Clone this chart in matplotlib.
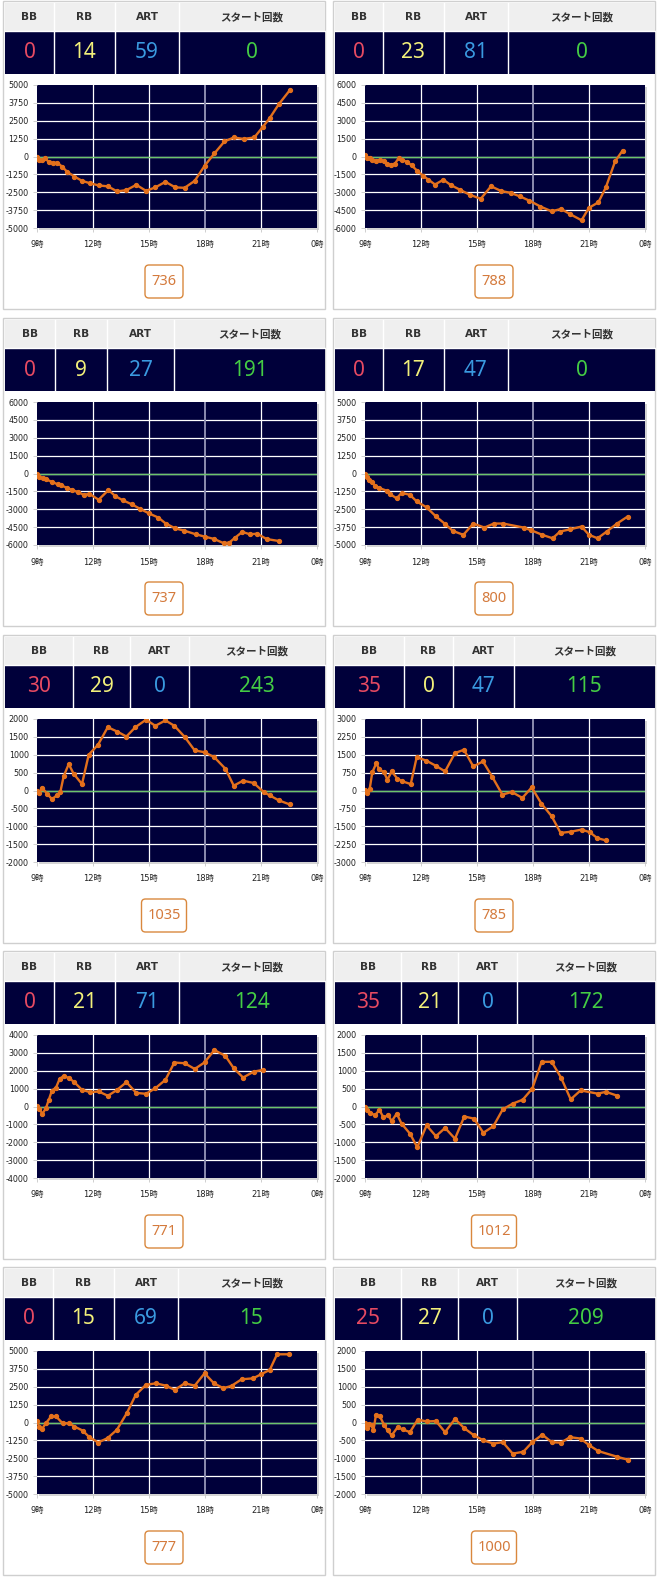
import matplotlib
matplotlib.use("Agg")
import matplotlib.pyplot as plt
from matplotlib.patches import Rectangle, FancyBboxPatch

plt.rcParams["font.family"] = ["DejaVu Sans", "Noto Sans CJK JP"]

# ── Data ──
BB = [0, 0, 0, 0, 30, 35, 0, 35, 0, 25]
RB = [14, 23, 9, 17, 29, 0, 21, 21, 15, 27]
ART = [59, 81, 27, 47, 0, 47, 71, 0, 69, 0]
START = [0, 0, 191, 0, 243, 115, 124, 172, 15, 209]
BOX_NUM = [736, 788, 737, 800, 1035, 785, 771, 1012, 777, 1000]
Y_MAX = [5000, 6000, 6000, 5000, 2000, 3000, 4000, 2000, 5000, 2000]
X_TICKS = [9, 12, 15, 18, 21, 24]
X_LABELS = ["9時", "12時", "15時", "18時", "21時", "0時"]

hours_1 = [9.0, 9.12, 9.27, 9.45, 9.63, 9.86, 10.07, 10.34, 10.6, 11.0, 11.41, 11.86, 12.3, 12.8,
           13.29, 13.79, 14.32, 14.84, 15.34, 15.88, 16.41, 16.91, 17.45, 17.98, 18.5, 19.04,
           19.54, 20.07, 20.64, 21.11, 21.46, 21.95, 22.54]
vals_1 = [0, -230, -230, -120, -400, -470, -420, -700, -1050, -1400, -1700, -1880, -2020, -2090,
          -2440, -2350, -1980, -2400, -2160, -1770, -2160, -2190, -1700, -650, 210, 1050,
          1330, 1230, 1330, 2090, 2670, 3650, 4630]

hours_2 = [9.0, 9.1, 9.25, 9.4, 9.6, 9.8, 10.0, 10.2, 10.4, 10.6, 10.8, 11.0, 11.25, 11.5, 11.8,
           12.1, 12.4, 12.75, 13.2, 13.6, 14.1, 14.6, 15.2, 15.75, 16.3, 16.8, 17.3, 17.8, 18.4,
           19.0, 19.5, 20.0, 20.6, 21.0, 21.5, 21.9, 22.4, 22.8]
vals_2 = [100, -100, -150, -300, -350, -300, -400, -600, -700, -600, -150, -300, -450, -750, -1200,
          -1600, -1950, -2350, -1950, -2400, -2800, -3200, -3550, -2500, -2900, -3050, -3350, -3700,
          -4200, -4600, -4400, -4850, -5350, -4300, -3850, -2600, -400, 500]

hours_3 = [9.0, 9.1, 9.3, 9.5, 9.8, 10.1, 10.3, 10.6, 10.9, 11.2, 11.5, 11.8, 12.3, 12.83, 13.2,
           13.6, 14.1, 14.5, 15.0, 15.5, 15.9, 16.4, 16.9, 17.5, 18.0, 18.5, 19.0, 19.3, 19.6,
           20.0, 20.4, 20.8, 21.3, 21.94]
vals_3 = [0, -300, -400, -500, -700, -900, -1000, -1200, -1400, -1550, -1800, -1700, -2200, -1390,
          -1900, -2250, -2600, -2950, -3350, -3700, -4200, -4600, -4800, -5100, -5300, -5500,
          -5850, -5800, -5400, -4900, -5100, -5050, -5500, -5660]

hours_4 = [9.0, 9.09, 9.23, 9.36, 9.54, 9.77, 10.16, 10.34, 10.7, 10.96, 11.4, 11.77, 12.3, 12.8,
           13.3, 13.7, 14.27, 14.8, 15.4, 15.9, 16.4, 17.5, 17.9, 18.5, 19.05, 19.45, 20.0, 20.6,
           21.0, 21.46, 21.95, 22.5, 23.07]
vals_4 = [0, -220, -430, -620, -850, -1020, -1200, -1440, -1740, -1350, -1490, -1950, -2370, -3000,
          -3540, -4010, -4290, -3500, -3780, -3500, -3500, -3780, -3970, -4290, -4530, -4060,
          -3900, -3710, -4290, -4530, -4060, -3500, -3010]

hours_5 = [9.0, 9.1, 9.27, 9.54, 9.8, 10.07, 10.25, 10.43, 10.7, 10.96, 11.41, 11.77, 12.27, 12.79,
           13.29, 13.79, 14.27, 14.84, 15.34, 15.88, 16.36, 16.91, 17.45, 17.98, 18.5, 19.09,
           19.54, 20.04, 20.61, 21.14, 21.46, 21.95, 22.54]
vals_5 = [-25, -70, 80, -90, -240, -135, -40, 400, 740, 470, 180, 1000, 1280, 1770,
          1650, 1510, 1770, 1980, 1810, 1960, 1810, 1500, 1120, 1070, 930, 610,
          135, 275, 210, -40, -135, -275, -390]

hours_6 = [9.0, 9.09, 9.25, 9.39, 9.61, 9.75, 10.02, 10.2, 10.43, 10.73, 11.0, 11.45, 11.77, 12.29,
           12.79, 13.29, 13.82, 14.3, 14.8, 15.32, 15.82, 16.36, 16.86, 17.43, 17.93, 18.45,
           19.0, 19.48, 20.02, 20.6, 21.04, 21.45, 21.89]
vals_6 = [35, -100, 60, 760, 1150, 900, 760, 450, 800, 500, 385, 270, 1400, 1250,
          1040, 800, 1570, 1710, 1010, 1220, 570, -175, -60, -310, 130, -550,
          -1080, -1780, -1730, -1640, -1750, -2000, -2090]

hours_7 = [9.0, 9.12, 9.29, 9.48, 9.63, 9.8, 10.02, 10.21, 10.43, 10.73, 11.0, 11.41, 11.86, 12.3,
           12.8, 13.29, 13.79, 14.32, 14.84, 15.34, 15.88, 16.36, 16.91, 17.45, 17.98, 18.5,
           19.09, 19.54, 20.04, 20.61, 21.11]
vals_7 = [50, -130, -410, -90, 370, 890, 1060, 1540, 1710, 1580, 1360, 930, 800, 840,
          600, 930, 1360, 760, 710, 1020, 1490, 2460, 2420, 2100, 2470, 3160,
          2830, 2140, 1620, 1950, 2050]

hours_8 = [9.0, 9.09, 9.27, 9.54, 9.77, 9.98, 10.25, 10.43, 10.7, 10.96, 11.41, 11.8, 12.3, 12.8,
           13.29, 13.82, 14.32, 14.84, 15.34, 15.88, 16.38, 16.91, 17.45, 17.96, 18.46, 19.0,
           19.5, 20.02, 20.55, 21.46, 21.91, 22.52]
vals_8 = [0, -90, -170, -250, -90, -300, -250, -410, -200, -480, -760, -1140, -530, -830,
          -600, -900, -280, -340, -735, -550, -80, 80, 190, 500, 1250, 1250,
          810, 200, 450, 360, 410, 300]

hours_9 = [9.0, 9.12, 9.27, 9.48, 9.75, 10.02, 10.37, 10.73, 11.0, 11.44, 11.8, 12.28, 12.78, 13.28,
           13.81, 14.29, 14.83, 15.36, 15.9, 16.38, 16.91, 17.45, 17.98, 18.48, 18.98, 19.42,
           19.96, 20.58, 21.0, 21.47, 21.86, 22.49]
vals_9 = [70, -280, -440, -50, 420, 420, -50, -50, -280, -560, -1020, -1400, -1090, -510,
          650, 1930, 2630, 2740, 2580, 2280, 2740, 2580, 3440, 2740, 2400, 2560,
          3020, 3090, 3370, 3680, 4770, 4770]

hours_10 = [9.0, 9.09, 9.23, 9.36, 9.45, 9.59, 9.8, 10.02, 10.21, 10.43, 10.75, 11.02, 11.41, 11.82,
            12.3, 12.8, 13.29, 13.82, 14.32, 14.84, 15.34, 15.88, 16.38, 16.91, 17.48, 17.96,
            18.5, 19.0, 19.5, 19.98, 20.55, 21.02, 21.5, 22.52, 23.07]
vals_10 = [-20, -150, -55, -80, -220, 220, 170, -65, -220, -360, -130, -195, -270, 80,
           30, 40, -270, 100, -160, -360, -500, -590, -550, -870, -820, -550,
           -340, -550, -565, -410, -450, -640, -800, -960, -1040]

SERIES = [(hours_1, vals_1), (hours_2, vals_2), (hours_3, vals_3), (hours_4, vals_4),
          (hours_5, vals_5), (hours_6, vals_6), (hours_7, vals_7), (hours_8, vals_8),
          (hours_9, vals_9), (hours_10, vals_10)]

# ── Layout (pixels) ──
W, H = 658, 1580
ROW_TOP = [2, 319, 636, 952, 1268]
COL_X = [0, 330]
# column splits inside each panel's header table
SPLITS = [(54, 115, 179), (53, 114, 178), (55, 107, 174), (53, 114, 178),
          (73, 130, 189), (74, 123, 184), (54, 115, 179), (71, 128, 187),
          (53, 114, 178), (71, 128, 187)]
CHART_X = [37, 365]
CHART_W = 280

NAVY = "#00003a"
ORANGE = "#e3701c"
VAL_COLORS = ["#e64a62", "#f2f07a", "#3a9ae0", "#44cc44"]
HEAD = ["BB", "RB", "ART", "スタート回数"]

fig = plt.figure(figsize=(W / 100, H / 100), dpi=100)
fig.patch.set_facecolor("white")
base = fig.add_axes([0, 0, 1, 1])
base.set_xlim(0, W)
base.set_ylim(H, 0)
base.axis("off")


def px_axes(x, y, w, h):
    return fig.add_axes([x / W, 1 - (y + h) / H, w / W, h / H])


for i in range(10):
    r, c = divmod(i, 2)
    ox, top = COL_X[c], ROW_TOP[r]
    # panel border
    base.add_patch(Rectangle((ox + 3, top - 1), 322, 308, facecolor="white",
                             edgecolor="#cfcfcf", lw=1))
    # header table
    xs = [ox + 5] + [ox + s for s in SPLITS[i]] + [ox + 325]
    base.add_patch(Rectangle((ox + 5, top + 1), 320, 28, facecolor="#efefef", edgecolor="none"))
    base.add_patch(Rectangle((ox + 5, top + 29), 320, 43, facecolor=NAVY, edgecolor="none"))
    vals = [BB[i], RB[i], ART[i], START[i]]
    for k in range(4):
        cx = (xs[k] + xs[k + 1]) / 2
        base.text(cx, top + 15, HEAD[k], ha="center", va="center", fontsize=7.6,
                  fontweight="bold", color="#333333",
                  family=["DejaVu Sans", "Noto Sans CJK JP"])
        base.text(cx, top + 51, str(vals[k]), ha="center", va="center", fontsize=15,
                  color=VAL_COLORS[k], family="Noto Sans")
    for s in xs[1:-1]:
        base.plot([s, s], [top + 1, top + 72], color="white", lw=1)
    base.plot([ox + 5, ox + 325], [top + 29, top + 29], color="white", lw=1)

    # chart shadow
    cx0, cy0, ch = CHART_X[c], top + 83, 143
    base.add_patch(Rectangle((cx0 + 1.5, cy0 + 1.5), CHART_W, ch, facecolor="#d4d4d4",
                             edgecolor="none"))

    ax = px_axes(cx0, cy0, CHART_W, ch)
    ax.set_facecolor(NAVY)
    ym = Y_MAX[i]
    yt = [ym - k * ym / 4 for k in range(9)]
    ax.set_xlim(9, 24)
    ax.set_ylim(-ym, ym)
    for v in yt[1:-1]:
        ax.axhline(v, color="white", lw=0.9, zorder=1)
    for xv in X_TICKS[1:-1]:
        ax.axvline(xv, color="#8c8cb0" if xv == 18 else "white",
                   lw=1.4 if xv == 18 else 0.9, zorder=1)
    ax.axhline(0, color="#6cc46c", lw=1.0, zorder=2)
    hrs, vv = SERIES[i]
    ax.plot(hrs, vv, color=ORANGE, lw=1.7, marker="o", ms=2.8, zorder=3)
    ax.set_xticks(X_TICKS)
    ax.set_xticklabels(X_LABELS)
    ax.set_yticks(yt)
    ax.set_yticklabels([f"{int(v)}" for v in yt])
    ax.tick_params(axis="both", labelsize=5.8, colors="#c8c8c8", length=3, width=0.6,
                   labelcolor="#222222", pad=3)
    ax.tick_params(axis="x", pad=6, labelsize=6)
    for sp in ax.spines.values():
        sp.set_visible(False)

    # number box
    txt = str(BOX_NUM[i])
    bw = 17 + 7 * len(txt)
    bx = ox + 164 - bw / 2
    base.add_patch(FancyBboxPatch((bx, top + 263), bw, 33,
                                  boxstyle="round,pad=0,rounding_size=4",
                                  facecolor="white", edgecolor="#d9883e", lw=1))
    base.text(ox + 164, top + 279.5, txt, ha="center", va="center", fontsize=10.5,
              color="#d47a3c", family="Noto Sans")

fig.savefig("out.png", dpi=100, facecolor="white")
plt.close(fig)
